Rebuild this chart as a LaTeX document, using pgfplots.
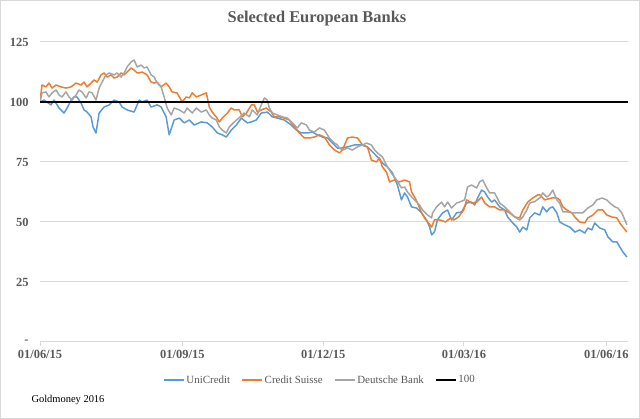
\documentclass[border=0pt]{standalone}
\usepackage{pgfplots}
\pgfplotsset{compat=1.18}
\usepackage{fontspec}
\setmainfont{Liberation Serif}
\definecolor{ucblue}{HTML}{5B9BD5}
\definecolor{csorange}{HTML}{ED7D31}
\definecolor{dbgray}{HTML}{A5A5A5}
\definecolor{gridc}{HTML}{D9D9D9}
\definecolor{labc}{HTML}{595959}
\begin{document}
\begin{tikzpicture}
\path[use as bounding box] (0,0) rectangle (640bp,419bp);
\draw[gridc, line width=1bp] (0.5bp,0.5bp) rectangle (639.5bp,418.5bp);
\node[text=labc, font=\fontsize{16.5}{18}\selectfont\bfseries] at (317bp,400bp) {Selected European Banks};
\node[anchor=west, font=\fontsize{10.5}{12}\selectfont] at (28bp,19bp) {Goldmoney 2016};
\begin{axis}[
  at={(40bp,77bp)}, anchor=south west,
  scale only axis, width=588bp, height=300bp,
  xmin=0, xmax=380, ymin=0, ymax=125,
  axis x line*=bottom, axis y line*=left,
  x axis line style={gridc, line width=1bp, -},
  y axis line style={draw=none},
  xtick={0,92,183,274,366},
  xticklabels={01/06/15,01/09/15,01/12/15,01/03/16,01/06/16},
  ytick={0,25,50,75,100,125},
  yticklabels={-,25,50,75,100,125},
  ymajorgrids, grid style={gridc, line width=1bp},
  major tick length=4bp, tick align=outside,
  xtick style={gridc, line width=1bp},
  ytick style={draw=none},
  ticklabel style={text=labc, font=\fontsize{12.5}{14}\selectfont\bfseries},
  xticklabel style={yshift=-1bp},
  yticklabel style={xshift=-4bp},
  legend columns=4,
  legend style={at={(0.476,-0.127)}, anchor=center, draw=none, fill=none,
    font=\fontsize{11}{13}\selectfont, text=labc,
    /tikz/every even column/.append style={column sep=9bp}},
  legend image code/.code={\draw[#1, line width=1.5bp] (0bp,0bp) -- (20bp,0bp);},
  every axis plot/.append style={line width=1.5bp, line join=round},
]
\addplot[ucblue] coordinates {
(0,100) (2.6,100.8) (7.1,98.8) (9.1,100.8) (12.3,97.5) (15.5,95.4) (17.5,97.5) (20.1,100.8) (22,102.1) (23.9,102.1) (26.5,99.6) (28.5,96.7) (30.4,95.8) (33,93.8) (34.3,89.6) (36.2,87.1) (38.2,95.4) (41.4,97.9) (44.7,98.8) (47.9,100.8) (51.1,100) (53.1,97.9) (56.3,96.7) (60.8,95.8)
(64.1,100.8) (66,100) (69.2,100.8) (71.8,97.9) (75.7,98.8) (78.3,97.9) (81.5,93.8) (83.5,86.3) (86.7,92.5) (90,93.3) (93.2,91.3) (96.5,92.5) (99.7,90.4) (104.2,91.7) (108.1,91.3) (111.3,89.6) (114.6,87.1) (117.8,86.3) (120.4,85.4) (123.6,88.3) (126.9,90.4)
(130.1,93.3) (134,91.3) (136.6,91.7) (139.8,92.5) (143,95.4) (146.9,95.8) (150.2,93.8) (153.4,93.3) (157.9,92.5) (162.4,90.4) (165.7,88.3) (168.9,87.1) (172.8,87.1) (176,87.5) (179.3,86.3) (182.5,85.4) (185.7,85) (189,82.9) (192.2,80.8)
(194.8,80.8) (198.7,81.3) (203.2,82.1) (207.8,82.1) (211.6,81.3) (214.9,79.2) (218.1,77.1) (221.3,74.6) (224.6,72.9) (227.8,70.4) (231,65.4) (233.6,59.2) (235.6,62.1) (237.5,60.4) (240.1,56.3) (243.4,55.8) (246.6,53.8) (249.8,50.8) (251.8,47.9) (253.1,44.6) (255,46) (256.9,51)
(260.2,53.8) (263.4,55) (266,50.8) (269.2,53.8) (272.5,54.2) (275.7,57.9) (278.9,58.3) (280.9,57.1) (282.8,60) (285.4,63.3) (287.4,62.5) (289.3,60.4) (291.9,58.3) (293.8,59.2) (297.1,56.3) (300.3,55) (302.2,52.1) (305.5,49.6) (308.1,47.9) (310,45.8) (312,47.9) (314.6,46.7) (316.5,51.7) (319.7,53.8) (323,52.9)
(324.9,56.3) (327.5,54.2) (329.4,55.8) (331.4,56.3) (334,53.8) (335.9,50) (339.1,48.8) (342.4,47.9) (345.6,45.8) (348.8,46.7) (352.1,45.4) (354,47.5) (356.6,46.7) (358.5,49.6) (361.8,47.5) (365,46.7) (367,43.8) (370.2,41.7) (372.8,41.7) (374.7,39.6) (376.7,37.5) (379.3,35.4)
};
\addlegendentry{UniCredit}
\addplot[csorange] coordinates {
(0,100) (1.3,107.1) (3.9,106.3) (5.8,107.9) (7.8,105.8) (10.4,107.1) (13.6,106.3) (16.8,105.8) (20.1,106.3) (23.3,107.9) (26.5,107.1) (28.5,108.3) (30.4,106.3) (33,107.9) (34.9,109.2) (36.9,108.3) (39.5,111.3) (41.4,112.1) (43.4,110.4) (45.9,111.3) (47.9,110) (49.9,110.4) (52.4,112.1) (54.4,111.3) (56.3,112.5) (58.9,114.2) (60.8,113.3) (62.8,112.1)
(64.1,112.1) (66,112.5) (69.2,111.3) (71.8,108.3) (73.8,107.9) (75.7,108.3) (78.3,106.3) (81.5,107.9) (83.5,106.3) (85.4,104.2) (88.6,103.8) (91.9,100) (94.5,102.1) (96.5,101.7) (98.4,103.8) (101,102.1) (104.2,102.9) (107.5,103.8) (109.4,97.9) (111.3,95.8) (113.9,93.8) (115.9,91.7) (117.8,93.3) (121.1,95.4) (123.6,97.5) (125.6,96.7) (128.8,96.7)
(130.8,93.8) (133.4,95.4) (136.6,98.8) (138.5,98.8) (140.5,95.8) (143,96.7) (146.2,97.5) (149.5,95.8) (151.4,93.8) (154.7,93.8) (157.9,93.3) (161.1,92.5) (164.4,89.6) (167.6,87.1) (170.9,85) (174.1,85) (177.3,85.4) (180.6,86.3) (183.8,85.4) (187.1,82.1) (190.3,80)
(193.5,78.8) (195.5,80) (198.7,85) (201.9,85.4) (205.2,85) (208.4,82.1) (211.6,81.3) (214.2,75.8) (217.5,75) (219.4,76.7) (221.3,72.9) (223.9,70.8) (225.9,66.7) (229.1,67.5) (232.3,66.7) (235.6,67.5) (238.8,66.7) (240.1,62.5) (242.1,60.4) (244,57.9) (246.6,53.8) (248.5,51.7) (250.5,50) (253.1,47.9) (255,51)
(258.9,50.8) (262.1,50) (265.3,51.7) (267.3,50.8) (270.5,52.1) (273.8,55) (275.7,59.2) (278.9,57.9) (282.2,58.3) (285.4,60.4) (287.4,57.9) (290.6,56.3) (293.8,56.3) (297.1,55) (300.3,55) (303.5,53.8) (306.8,52.1) (310,51.7) (312,55) (315.2,58.3) (318.4,60) (321.7,61.3)
(323,61.3) (326.2,59.2) (330.7,60) (334,60) (335.9,59.2) (337.9,56.3) (340.5,55) (343.7,53.8) (345.6,52.1) (348.8,50) (352.1,49.6) (354,51.7) (357.3,52.9) (360.5,55) (363.7,55) (366.3,52.9) (369.6,52.1) (372.8,51.7) (374.7,49.6) (376.7,47.9) (379.3,45.8)
};
\addlegendentry{Credit Suisse}
\addplot[dbgray] coordinates {
(0,100) (1.3,103.8) (3.9,104.2) (5.8,102.1) (7.8,103.8) (10.4,105) (12.3,102.9) (14.2,102.1) (16.8,104.2) (18.8,102.1) (20.7,100.8) (23.3,102.9) (25.2,105) (27.2,104.2) (29.8,101.7) (31.7,104.2) (33.7,103.8) (36.2,100.8) (38.2,105.8) (40.1,108.3) (42.7,111.3) (44.7,112.1) (47.9,111.3) (49.8,112.1) (52.4,110.4) (54.4,112.1) (56.3,114.6) (58.9,116.7) (60.8,117.5) (62.8,114.6)
(65.3,115.4) (67.3,114.2) (69.2,114.6) (71.8,111.3) (73.8,110.4) (75.7,107.9) (78.3,106.3) (80.2,102.1) (82.2,97.5) (84.8,94.6) (86.7,97.5) (90,96.7) (93.2,95.4) (95.1,97.5) (98.4,95.4) (101,97.5) (104.2,95.8) (107.5,96.7) (109.4,94.6) (111.3,93.3) (113.9,92.5) (115.9,89.6) (117.8,88.3) (120.4,87.1) (122.3,89.6) (125.6,91.7) (128.8,93.5)
(132,95.4) (135.3,93.8) (137.2,96.7) (140.4,94.6) (143,98.8) (145,101.7) (146.9,100.8) (148.2,97.5) (150.2,95.4) (153.4,94.6) (156.7,93.8) (159.9,93.3) (163.1,91.3) (166.3,89.2) (168.9,91.3) (172.2,90.4) (174.1,88.3) (177.3,87.5) (180.6,89.2) (183.8,88.3) (187,85) (190.3,82.9) (192.2,82.1)
(193.5,80.8) (195.5,80) (198.7,80.8) (201.9,80) (205.2,81.3) (208.4,82.1) (211,82.9) (214.2,82.1) (216.2,80) (218.1,78.8) (221.3,77.1) (224.6,72.9) (227.1,70.4) (230.4,67.5) (233.6,64.2) (235.6,64.6) (237.5,62.5) (240.8,60) (243.4,58.3) (245.3,57.1) (247.2,55) (250.5,52.9) (253.1,51.7) (253.7,53.8) (256.3,56.3)
(259.5,58.3) (261.5,56.3) (263.4,58.3) (266,55.8) (269.2,57.9) (271.2,58.3) (274.4,59.2) (276.3,64.6) (278.9,65.4) (282.2,64.2) (284.1,66.7) (286.1,67.5) (288.7,64.2) (290.6,62.1) (293.8,62.1) (297.1,57.9) (300.3,56.3) (303.5,54.2) (306.8,52.1) (310,50.8) (312,52.1) (314.6,55) (316.5,57.9) (319.7,58.5)
(323,60) (324.9,62.1) (327.5,60.4) (329.4,61.3) (331.4,63.3) (334,59.2) (335.9,57.9) (337.9,54.2) (341.1,54.2) (344.3,53.8) (347.5,53.8) (350.8,53.8) (354,55.8) (357.3,57.1) (359.8,59.2) (363.1,60) (366.3,59.2) (368.3,57.9) (371.5,56.3) (373.5,55.8) (376,53.8) (378,50.8) (379.3,48.8)
};
\addlegendentry{Deutsche Bank}
\addplot[black] coordinates {(0,100) (380,100)};
\addlegendentry{100}
\end{axis}
\end{tikzpicture}
\end{document}
